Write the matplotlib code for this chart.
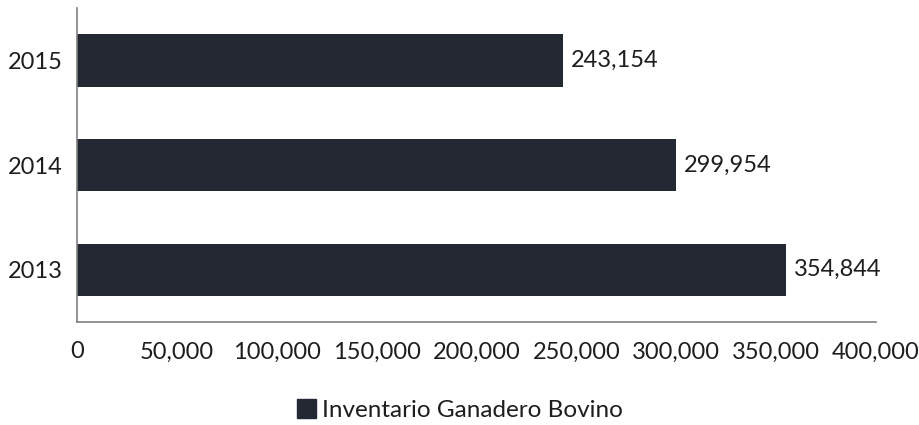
import matplotlib.pyplot as plt
from matplotlib.patches import Patch
from matplotlib.ticker import FuncFormatter

years = ["2013", "2014", "2015"]
inventario = [354844, 299954, 243154]
x_ticks = [0, 50000, 100000, 150000, 200000, 250000, 300000, 350000, 400000]
series_name = "Inventario Ganadero Bovino"

bar_color = "#232833"
text_color = "#1e1e1e"
fs = 17

plt.rcParams["font.family"] = ["Lato", "DejaVu Sans"]

fig = plt.figure(figsize=(9.2, 4.25), dpi=100)
ax = fig.add_axes([0.0837, 0.2424, 0.8683, 0.7386])

pos = list(range(len(years)))
ax.barh(pos, inventario, height=0.5, color=bar_color)

# value labels at the end of each bar
for p, v in zip(pos, inventario):
    ax.annotate(f"{v:,}", (v, p), xytext=(6, 0), textcoords="offset points",
                va="center", ha="left", fontsize=fs, color=text_color)

ax.set_xlim(0, 400000)
ax.set_ylim(-0.5, 2.5)
ax.set_yticks(pos)
ax.set_yticklabels(years)
ax.set_xticks(x_ticks)
ax.xaxis.set_major_formatter(FuncFormatter(lambda v, _: f"{int(v):,}"))
ax.tick_params(axis="both", length=0, labelsize=fs, colors=text_color)
ax.tick_params(axis="x", pad=14)
ax.tick_params(axis="y", pad=10)

for side in ["top", "right"]:
    ax.spines[side].set_visible(False)
for side in ["left", "bottom"]:
    ax.spines[side].set_color("#7f7f7f")
    ax.spines[side].set_linewidth(1.2)

handle = Patch(facecolor=bar_color, edgecolor=bar_color)
fig.legend([handle], [series_name], loc="center", bbox_to_anchor=(0.5, 0.035),
           frameon=False, fontsize=17.5, handlelength=0.78, handleheight=0.78,
           handletextpad=0.25, borderpad=0, labelcolor=text_color)

fig.savefig("out.png", dpi=100)
